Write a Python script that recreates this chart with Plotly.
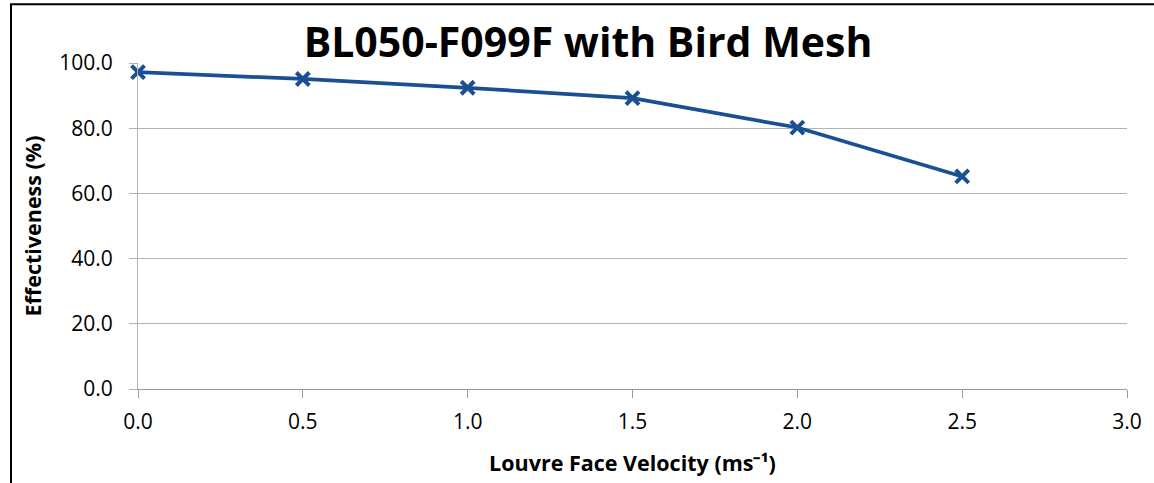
import plotly.graph_objects as go

velocity = [0.0, 0.5, 1.0, 1.5, 2.0, 2.5]
effectiveness = [97.2, 95.1, 92.4, 89.2, 80.2, 65.2]
title_text = "BL050-F099F with Bird Mesh"
x_title = "Louvre Face Velocity (ms⁻¹)"
y_title = "Effectiveness (%)"

FONT = "Open Sans"
LINE_COLOR = "#1B4F93"

fig = go.Figure()
fig.add_trace(go.Scatter(
    x=velocity, y=effectiveness, mode="lines+markers",
    line=dict(color=LINE_COLOR, width=3.7),
    marker=dict(symbol="x-thin", size=13, color=LINE_COLOR,
                line=dict(color=LINE_COLOR, width=4)),
    showlegend=False, cliponaxis=False,
))

fig.update_layout(
    width=1154, height=483,
    margin=dict(l=138, r=27, t=63, b=92),
    paper_bgcolor="white", plot_bgcolor="white",
    title=dict(text="<b>" + title_text + "</b>", x=588/1154, xanchor="center",
               y=1 - 43/483, yanchor="middle",
               font=dict(family=FONT, size=41, color="black")),
    font=dict(family=FONT, color="black"),
    shapes=[dict(type="rect", xref="paper", yref="paper",
                 x0=(11 - 138) / 989, x1=1.2, y0=-0.6, y1=(391 - 4) / 328,
                 line=dict(color="black", width=2), layer="below")],
)
fig.update_xaxes(
    range=[0, 3], dtick=0.5, tick0=0, tickformat=".1f",
    showgrid=False, showline=True, linecolor="#9a9a9a", linewidth=1,
    ticks="outside", ticklen=8, tickcolor="#9a9a9a",
    ticklabelstandoff=6,
    tickfont=dict(family=FONT, size=21, color="black"),
    title=dict(text="<b>" + x_title + "</b>", standoff=21,
               font=dict(family=FONT, size=21.5, color="black")),
    zeroline=False,
)
fig.update_yaxes(
    range=[0, 100], dtick=20, tick0=0, tickformat=".1f",
    showgrid=True, gridcolor="#b4b4b4", gridwidth=1,
    showline=True, linecolor="#b4b4b4", linewidth=1,
    ticks="outside", ticklen=8, tickcolor="#b4b4b4",
    ticklabelstandoff=12,
    tickfont=dict(family=FONT, size=21, color="black"),
    title=dict(text="<b>" + y_title + "</b>", standoff=11,
               font=dict(family=FONT, size=21.5, color="black")),
    zeroline=False,
)

fig.write_html("out.html", config={"displayModeBar": False},
               post_script="document.body.style.margin='0';")
